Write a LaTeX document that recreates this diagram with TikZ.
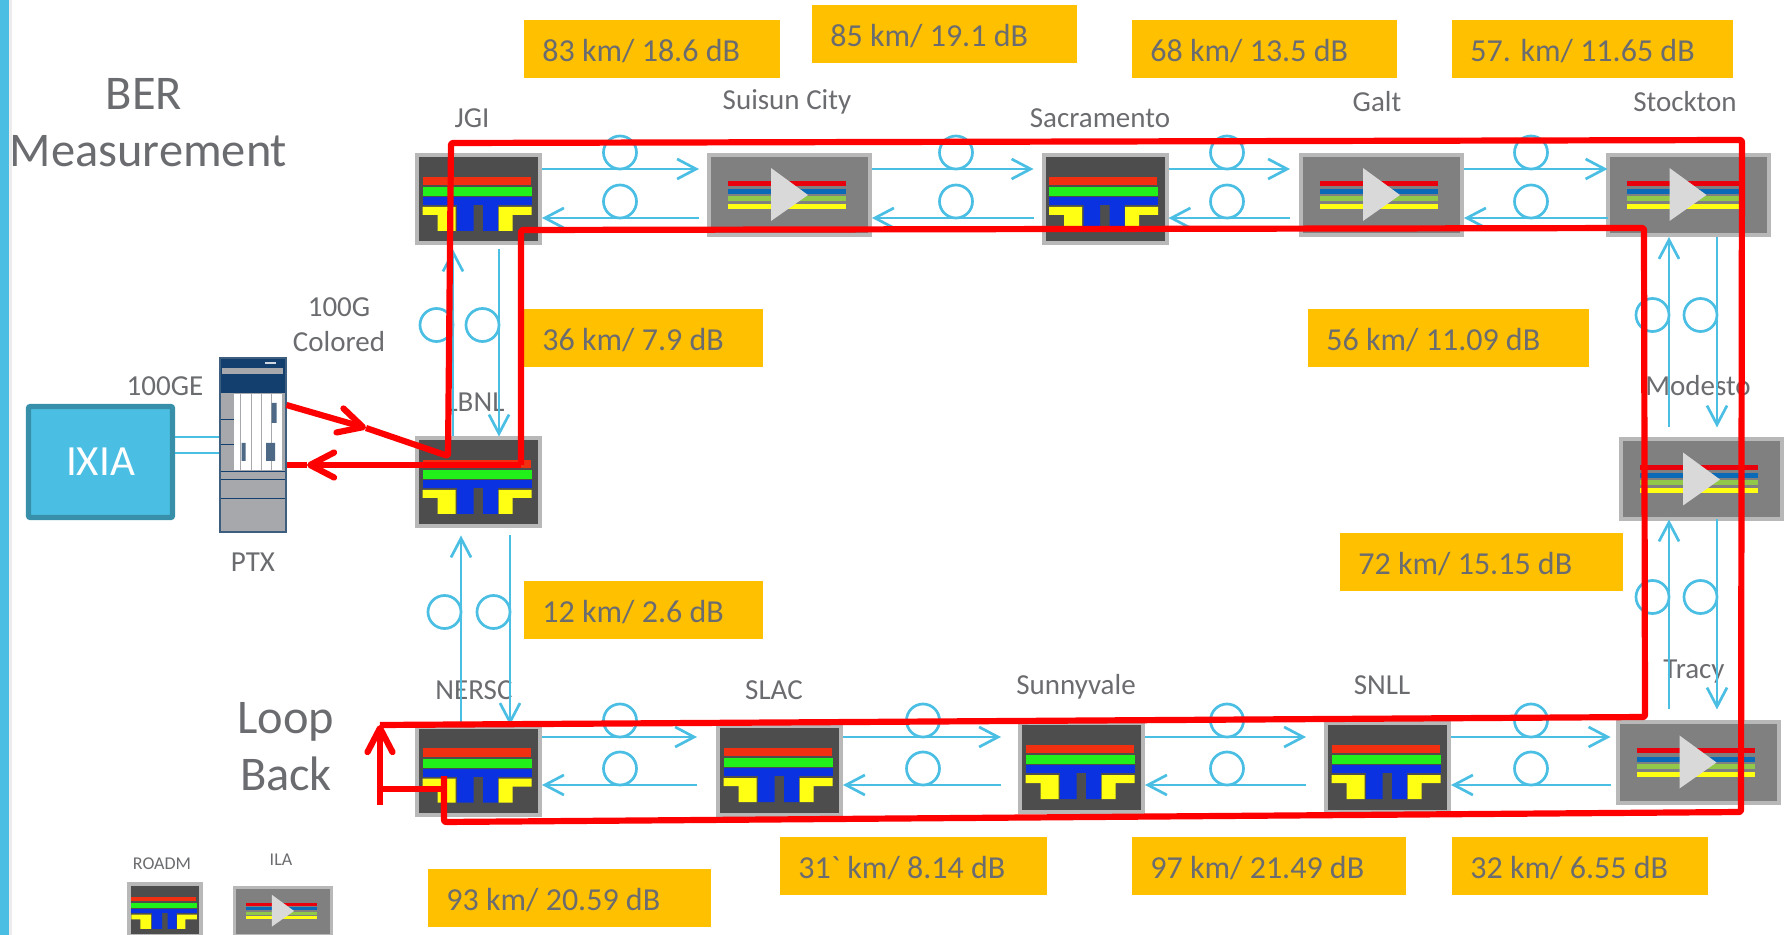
\documentclass[tikz,border=0pt]{standalone}
\usepackage{fontspec}
\usetikzlibrary{arrows.meta}
\newfontfamily\labelfont{Carlito}
\definecolor{fibercol}{HTML}{4BBFE3}
\definecolor{textgray}{HTML}{6B6C6F}
\definecolor{spanfill}{HTML}{FFC000}
\definecolor{edgegray}{HTML}{B8B8B8}
\definecolor{roadmgray}{HTML}{4D4D4D}
\definecolor{ilagray}{HTML}{808080}
\definecolor{navy}{HTML}{123F6D}
\definecolor{chassis}{HTML}{A6A8AB}
\definecolor{barred}{HTML}{F03010}
\definecolor{bargreen}{HTML}{22F01A}
\definecolor{barblue}{HTML}{0A32E0}
\definecolor{baryellow}{HTML}{FFFF14}
\definecolor{ilared}{HTML}{E8000C}
\definecolor{ilablue}{HTML}{0A6AB8}
\definecolor{ilagreen}{HTML}{92C84A}
\tikzset{
    sitelabel/.style={text=textgray,inner sep=0pt,align=center,yshift=-1pt,font={\labelfont\fontsize{14.5}{17.5}\selectfont}},
    biglabel/.style={text=textgray,inner sep=0pt,align=center,yshift=-1pt,font={\labelfont\fontsize{24.2}{28.5}\selectfont}},
    smalllabel/.style={text=textgray,inner sep=0pt,font={\labelfont\fontsize{9}{11}\selectfont}},
    spanbox/.style={fill=spanfill,text=textgray,anchor=north west,minimum height=29pt,inner ysep=0pt,inner xsep=9pt,text width=#1pt-18pt,text height=13pt,text depth=.5pt,align=flush left,font={\labelfont\fontsize{16}{19}\selectfont}},
    roadmbox/.style={draw=edgegray,line width=2pt,fill=roadmgray,minimum width=61.5pt,minimum height=44pt,inner sep=0pt},
    ilabox/.style={draw=edgegray,line width=2pt,fill=ilagray,minimum width=80.5pt,minimum height=40pt,inner sep=0pt},
    fiber/.style={draw=fibercol,line width=1.35pt,>={Straight Barb[length=9.5pt,width=10pt]}},
    redroute/.style={draw=red,line width=3.1pt,line join=round,rounded corners=1pt,>={Straight Barb[length=12pt,width=12.5pt,round]}},
    roadmicon/.pic={
        \fill[barred] (-56,-22.5) rectangle (52,-14.5);
        \fill[bargreen] (-56,-12.5) rectangle (53,-3.5);
        \fill[barblue] (-56,-2.5) rectangle (53,5.5);
        \fill[barblue] (-21.5,5) rectangle (-5,31.5) (4.5,5) rectangle (19.5,31.5);
        \fill[baryellow] (-56,7.5) -- (-23,7.5) -- (-23,31.5) -- (-41,31.5) -- (-41,15.5) -- (-56,15.5) -- cycle;
        \fill[baryellow] (53,7.5) -- (20,7.5) -- (20,31.5) -- (34,31.5) -- (34,15.5) -- (53,15.5) -- cycle;
    },
    ilaicon/.pic={
        \fill[ilared] (-61.5,-14) rectangle (56.5,-9);
        \fill[ilablue] (-61.5,-6) rectangle (56.5,-1);
        \fill[ilagreen] (-61.5,1) rectangle (56.5,6);
        \fill[baryellow] (-61.5,9) rectangle (56.5,14);
        \fill[gray!30] (-18.5,-27) -- (18.5,0) -- (-18.5,26) -- cycle;
    },
    ptxicon/.pic={
        \fill[navy] (-32,-86) rectangle (32,-52);
        \fill[chassis] (-31,-77) rectangle (30,-71);
        \fill[white!80!navy] (12,-83) rectangle (23,-81);
        \fill[white] (-18.5,-51) rectangle (29.5,25);
        \foreach \sx in {-12,-1,9,19}
            \draw[chassis,line width=.8pt] (\sx,-51) -- (\sx,25);
        \fill[navy!60!chassis] (-11,-2) rectangle (-7,16) (13.5,-2) rectangle (22.5,16) (19,-42) rectangle (24,-22);
        \draw[navy,line width=.5pt] (-32,-25) -- (-18.5,-25) (-32,0) -- (-18.5,0) (-32,27) -- (32,27) (-32,35) -- (32,35) (-32,54) -- (32,54);
    },
}
\begin{document}
\begin{tikzpicture}[x=0.5pt,y=-0.5pt]
    \useasboundingbox (0,0) rectangle (1785,935);
    \fill[gray!15] (9,0) rectangle (12,935);
    \fill[fibercol] (0,0) rectangle (9,935);

    % span boxes
    \node[spanbox=128] (sp1) at (524,20) {83 km/ 18.6 dB};
    \node[spanbox=132.5] (sp2) at (812,5) {85 km/ 19.1 dB};
    \node[spanbox=132.5] (sp3) at (1132,20) {68 km/ 13.5 dB};
    \node[spanbox=140.5] (sp4) at (1452,20) {57. km/ 11.65 dB};
    \node[spanbox=119.5] (sp5) at (524,309) {36 km/ 7.9 dB};
    \node[spanbox=140.5] (sp6) at (1308,309) {56 km/ 11.09 dB};
    \node[spanbox=141.5] (sp7) at (1340,533) {72 km/ 15.15 dB};
    \node[spanbox=119.5] (sp8) at (524,581) {12 km/ 2.6 dB};
    \node[spanbox=141.5] (sp9) at (428,869) {93 km/ 20.59 dB};
    \node[spanbox=133.5] (sp10) at (780,837) {31` km/ 8.14 dB};
    \node[spanbox=137] (sp11) at (1132,837) {97 km/ 21.49 dB};
    \node[spanbox=128] (sp12) at (1452,837) {32 km/ 6.55 dB};

    % labels
    \node[biglabel] (title) at (148.5,121) {BER\kern 4.5pt\\Measurement};
    \node[biglabel] (loopback) at (286,745) {Loop\\Back};
    \node[sitelabel] (colored) at (339,323) {100G\\Colored};
    \node[sitelabel] (gelabel) at (165,384) {100GE};
    \node[sitelabel] (ptxlabel) at (253,560) {PTX};
    \node[sitelabel] (l1) at (472,116) {JGI};
    \node[sitelabel] (l2) at (787,100) {Suisun City};
    \node[sitelabel] (l3) at (1100,116) {Sacramento};
    \node[sitelabel] (l4) at (1377,100) {Galt};
    \node[sitelabel] (l5) at (1685,100) {Stockton};
    \node[sitelabel] (l6) at (475,400) {LBNL};
    \node[sitelabel] (l7) at (1698,384) {Modesto};
    \node[sitelabel] (l8) at (474,688) {NERSC};
    \node[sitelabel] (l9) at (774,688) {SLAC};
    \node[sitelabel] (l10) at (1076,685) {Sunnyvale};
    \node[sitelabel] (l11) at (1382,683) {SNLL};
    \node[sitelabel] (l12) at (1694,670) {Tracy};
    \node[smalllabel] (l13) at (162,864) {ROADM};
    \node[smalllabel] (l14) at (281,860) {ILA};

    % sites
    \foreach \name/\x/\y in {jgi/478.5/199.5,sacramento/1105/199.5,lbnl/478.5/482.5,nersc/478.5/771,slac/779.5/770.5,sunnyvale/1081.5/767.5,snll/1387.5/767.5}{
        \node[roadmbox] (\name) at (\x,\y) {};
        \pic at (\name.center) {roadmicon};
    }
    \foreach \name/\x/\y in {suisun/789.5/195,galt/1381.5/195,stockton/1688/195,modesto/1701.5/479.5,tracy/1698/762.5}{
        \node[ilabox] (\name) at (\x,\y) {};
        \pic at (\name.center) {ilaicon};
    }
    \begin{scope}
        \clip (0,0) rectangle (1785,935);
        \node[roadmbox,minimum width=36pt,minimum height=26pt] (legroadm) at (165,910) {};
        \pic[scale=.6] at (legroadm.center) {roadmicon};
        \node[ilabox,line width=1.5pt,minimum width=48.5pt,minimum height=24pt] (legila) at (283,911) {};
        \pic[scale=.6] at (legila.center) {ilaicon};
    \end{scope}

    % ixia and ptx
    \node[draw=fibercol!75!black,line width=2.7pt,fill=fibercol,rounded corners=1pt,minimum width=72pt,minimum height=55.5pt,inner sep=0pt,text=white,font={\labelfont\fontsize{21.5}{24}\selectfont}] (ixia) at (100.5,462) {IXIA};
    \node[draw=navy!70!chassis,line width=1pt,fill=chassis,minimum width=33pt,minimum height=87pt,inner sep=0pt] (ptx) at (252.5,445) {};
    \pic at (ptx.center) {ptxicon};
    \coordinate (linka) at (0,437);
    \coordinate (linkb) at (0,453);
    \draw[fibercol,line width=.6pt] (ixia.east |- linka) -- (ptx.west |- linka);
    \draw[fibercol,line width=.6pt] (ixia.east |- linkb) -- (ptx.west |- linkb);

    % horizontal fibers
    \foreach \from/\to/\cx/\g/\yout/\yret in {jgi/suisun/620/8/169/218,suisun/sacramento/956/8/169/218,sacramento/galt/1227/9/169/218,galt/stockton/1531/-2/169/218,nersc/slac/620/19/737/785,slac/sunnyvale/923/17/737/785,sunnyvale/snll/1227/18/737/785,snll/tracy/1531/5/737/785}{
        \coordinate (yo) at (0,\yout);
        \coordinate (yr) at (0,\yret);
        \draw[fiber,->,shorten >=\g*0.5pt] (\from.east |- yo) -- (\to.west |- yo);
        \draw[fiber,->,shorten <=\g*0.5pt] (\to.west |- yr) -- (\from.east |- yr);
        \draw[fiber] (\cx,\yout-16.5) circle[radius=16.5];
        \draw[fiber] (\cx,\yret-16.5) circle[radius=16.5];
    }
    % vertical fibers
    \foreach \hi/\lo/\xup/\xdn/\cy/\ghi/\glo in {jgi/lbnl/453/499/325/4/0,lbnl/nersc/461/510/612/7/0,stockton/modesto/1669/1717/315/0/10,modesto/tracy/1669/1717/597/-2/11}{
        \coordinate (xu) at (\xup,0);
        \coordinate (xd) at (\xdn,0);
        \draw[fiber,->,shorten <=\glo*0.5pt,shorten >=\ghi*0.5pt] (\lo.north -| xu) -- (\hi.south -| xu);
        \draw[fiber,->,shorten <=\ghi*0.5pt,shorten >=\glo*0.5pt] (\hi.south -| xd) -- (\lo.north -| xd);
        \draw[fiber] (\xup-16.5,\cy) circle[radius=16.5];
        \draw[fiber] (\xdn-16.5,\cy) circle[radius=16.5];
    }

    % red test path
    \coordinate (outy) at (0,405);
    \coordinate (outmid) at (366,428);
    \coordinate (a1) at (448,456);
    \coordinate (a2) at (451,143);
    \coordinate (a3) at (1742,140);
    \coordinate (a4) at (1741,812);
    \coordinate (a5) at (444,822);
    \coordinate (a6) at (444,776);
    \coordinate (b0) at (444,789);
    \coordinate (b1) at (380,789);
    \coordinate (b2) at (380,805);
    \coordinate (b3) at (380,725);
    \coordinate (b4) at (1645,717);
    \coordinate (b5) at (1644,228);
    \coordinate (b6) at (521,230);
    \coordinate (b7) at (521,465);
    \coordinate (retmid) at (307,465);
    \draw[redroute,->] (ptx.east |- outy) -- (outmid);
    \draw[redroute] (outmid) -- (a1) -- (a2) -- (a3) -- (a4) -- (a5) -- (a6);
    \draw[redroute] (b0) -- (b1);
    \draw[redroute,->] (b2) -- (b3);
    \draw[redroute] (b3) -- (b4) -- (b5) -- (b6) -- (b7);
    \draw[redroute,->] (b7) -- (retmid);
    \draw[redroute] (retmid) -- (ptx.east |- b7);
\end{tikzpicture}
\end{document}
